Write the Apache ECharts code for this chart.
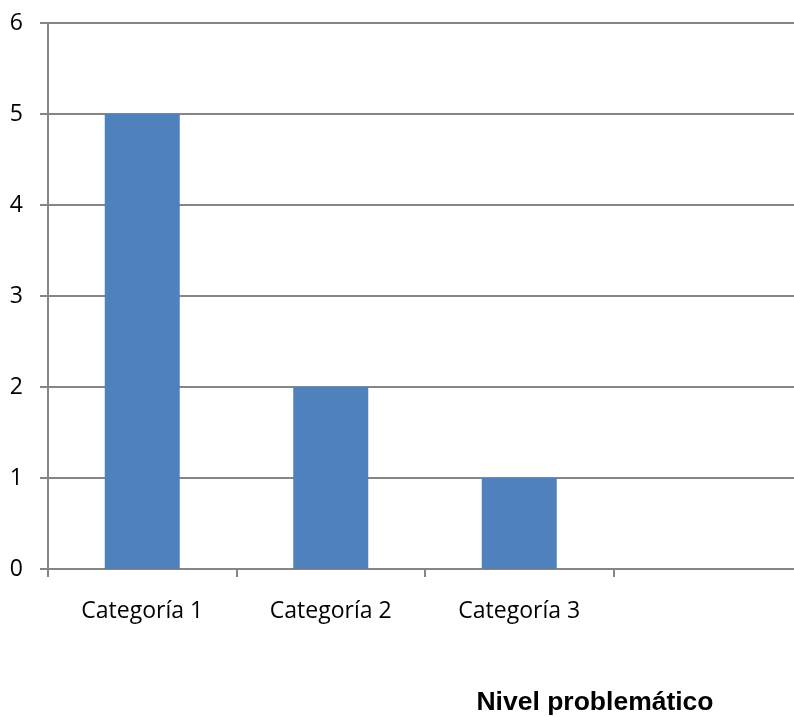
<!DOCTYPE html>
<html>
<head>
<meta charset="utf-8">
<script src="https://cdn.jsdelivr.net/npm/echarts@6/dist/echarts.min.js"></script>
<style>
  html, body { margin: 0; padding: 0; background: #ffffff; overflow: hidden; }
  /* the plot runs a little past the right edge of the window */
  #chart { width: 810px; height: 717px; }
</style>
</head>
<body>
<div id="chart"></div>
<script>
// Category slots (the fourth one is left empty) and their values
const categories = ['Categoría 1', 'Categoría 2', 'Categoría 3', ''];
const values = [5, 2, 1, null];
const yTicks = [0, 1, 2, 3, 4, 5, 6];
const titleText = 'Nivel problemático';

const axisGray = '#868686';
const chart = echarts.init(document.getElementById('chart'), null, { renderer: 'canvas' });

chart.setOption({
  animation: false,
  backgroundColor: '#ffffff',
  title: {
    text: titleText,
    left: 590,
    top: 684,
    textAlign: 'center',
    textStyle: {
      fontFamily: 'Liberation Sans',
      fontWeight: 'bold',
      fontSize: 26.5,
      color: '#000000'
    }
  },
  grid: { left: 48, right: 8, top: 23, bottom: 148, containLabel: false },
  xAxis: {
    type: 'category',
    data: categories,
    boundaryGap: true,
    axisLine: { show: true, lineStyle: { color: axisGray, width: 2 } },
    axisTick: { show: true, length: 8, lineStyle: { color: axisGray, width: 2 } },
    axisLabel: {
      margin: 31,
      fontFamily: 'Open Sans',
      fontSize: 23,
      color: '#000000'
    },
    splitLine: { show: false }
  },
  yAxis: {
    type: 'value',
    min: yTicks[0],
    max: yTicks[yTicks.length - 1],
    interval: 1,
    axisLine: { show: true, lineStyle: { color: axisGray, width: 2 } },
    axisTick: { show: true, length: 8, lineStyle: { color: axisGray, width: 2 } },
    axisLabel: {
      margin: 25,
      fontFamily: 'Open Sans',
      fontSize: 23,
      color: '#000000'
    },
    splitLine: { show: true, lineStyle: { color: axisGray, width: 2 } }
  },
  series: [{
    type: 'bar',
    data: values,
    barWidth: 75,
    itemStyle: { color: '#4F81BD' }
  }]
});
</script>
</body>
</html>
